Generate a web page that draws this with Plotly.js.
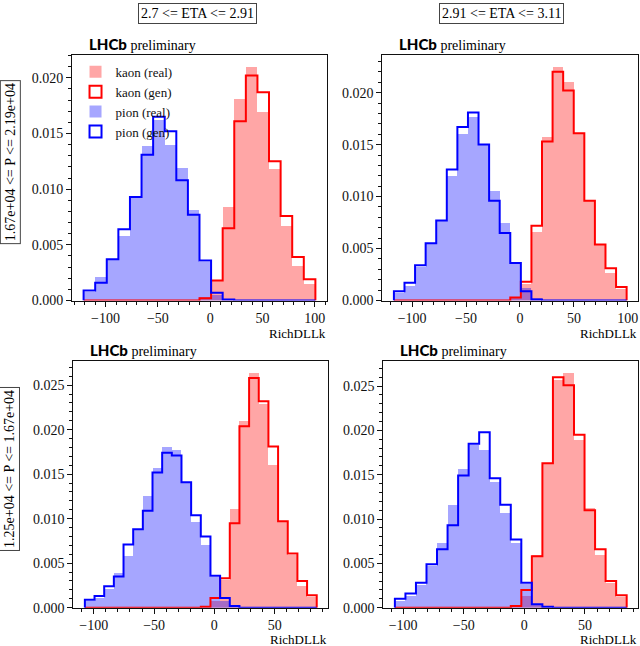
<!DOCTYPE html>
<html>
<head>
<meta charset="utf-8">
<script src="https://cdn.plot.ly/plotly-3.0.1.min.js"></script>
<style>
  body { margin: 0; background: #fff; }
  #plot { width: 640px; height: 646px; }
</style>
</head>
<body>
<div id="plot"></div>
<script>
// RichDLLk distributions, kaon vs pion, real data vs generated
const etaLabels = ['2.7 &lt;= ETA &lt;= 2.91', '2.91 &lt;= ETA &lt;= 3.11'];
const pLabels = ['1.67e+04 &lt;= P &lt;= 2.19e+04', '1.25e+04 &lt;= P &lt;= 1.67e+04'];

// top left (20 bins)
const rangeTL = [-121.0, 100.6];
const kaonRealTL = [0, 0, 0, 0, 0, 0, 0, 0, 0, 0, 0.0003, 0.0018, 0.0084, 0.0181, 0.0210, 0.0169, 0.0118, 0.0067, 0.0031, 0.0015];
const kaonGenTL  = [0, 0, 0, 0, 0, 0, 0, 0, 0, 0, 0.0002, 0.0018, 0.0065, 0.0161, 0.0202, 0.0187, 0.0125, 0.0076, 0.0039, 0.0019];
const pionRealTL = [0.0008, 0.0021, 0.0037, 0.0058, 0.0093, 0.0139, 0.0162, 0.0140, 0.0119, 0.0081, 0.0035, 0.0005, 0.0001, 0, 0, 0, 0, 0, 0, 0];
const pionGenTL  = [0.0009, 0.0016, 0.0037, 0.0064, 0.0093, 0.0131, 0.0165, 0.0152, 0.0108, 0.0077, 0.0036, 0.0007, 0.0001, 0, 0, 0, 0, 0, 0, 0];

// top right (22 bins)
const rangeTR = [-116.9, 98.9];
const kaonRealTR = [0, 0, 0, 0, 0, 0, 0, 0, 0, 0, 0, 0.0003, 0.0016, 0.0066, 0.0157, 0.0225, 0.0210, 0.0161, 0.0096, 0.0053, 0.0026, 0.0011];
const kaonGenTR  = [0, 0, 0, 0, 0, 0, 0, 0, 0, 0, 0, 0.0003, 0.0018, 0.0072, 0.0153, 0.0220, 0.0202, 0.0161, 0.0096, 0.0054, 0.0031, 0.0013];
const pionRealTR = [0.0007, 0.0014, 0.0032, 0.0055, 0.0077, 0.0120, 0.0160, 0.0177, 0.0151, 0.0105, 0.0075, 0.0036, 0.0012, 0.0002, 0, 0, 0, 0, 0, 0, 0, 0];
const pionGenTR  = [0.0009, 0.0017, 0.0034, 0.0055, 0.0077, 0.0126, 0.0167, 0.0181, 0.0150, 0.0096, 0.0065, 0.0036, 0.0009, 0.0001, 0, 0, 0, 0, 0, 0, 0, 0];

// bottom left (24 bins)
const rangeBL = [-107.4, 84.9];
const kaonRealBL = [0, 0, 0, 0, 0, 0, 0, 0, 0, 0, 0, 0, 0.0001, 0.0008, 0.0031, 0.0111, 0.0210, 0.0264, 0.0229, 0.0160, 0.0096, 0.0059, 0.0024, 0.0012];
const kaonGenBL  = [0, 0, 0, 0, 0, 0, 0, 0, 0, 0, 0, 0, 0.0001, 0.0011, 0.0033, 0.0095, 0.0204, 0.0258, 0.0232, 0.0181, 0.0097, 0.0061, 0.0030, 0.0014];
const pionRealBL = [0.0007, 0.0011, 0.0021, 0.0039, 0.0058, 0.0088, 0.0126, 0.0157, 0.0181, 0.0177, 0.0141, 0.0096, 0.0070, 0.0035, 0.0008, 0.0001, 0, 0, 0, 0, 0, 0, 0, 0];
const pionGenBL  = [0.0009, 0.0013, 0.0024, 0.0035, 0.0071, 0.0088, 0.0109, 0.0152, 0.0174, 0.0171, 0.0141, 0.0104, 0.0080, 0.0036, 0.0011, 0.0002, 0, 0, 0, 0, 0, 0, 0, 0];

// bottom right (22 bins)
const rangeBR = [-106.8, 84.4];
const kaonRealBR = [0, 0, 0, 0, 0, 0, 0, 0, 0, 0, 0, 0.0002, 0.0013, 0.0059, 0.0163, 0.0257, 0.0265, 0.0189, 0.0112, 0.0059, 0.0028, 0.0012];
const kaonGenBR  = [0, 0, 0, 0, 0, 0, 0, 0, 0, 0, 0, 0.0002, 0.0020, 0.0058, 0.0163, 0.0260, 0.0251, 0.0195, 0.0110, 0.0066, 0.0030, 0.0014];
const pionRealBR = [0.0007, 0.0013, 0.0026, 0.0047, 0.0073, 0.0116, 0.0156, 0.0183, 0.0178, 0.0142, 0.0107, 0.0073, 0.0027, 0.0004, 0.0001, 0, 0, 0, 0, 0, 0, 0];
const pionGenBR  = [0.0010, 0.0016, 0.0028, 0.0049, 0.0066, 0.0093, 0.0149, 0.0185, 0.0198, 0.0146, 0.0116, 0.0077, 0.0028, 0.0004, 0.0001, 0, 0, 0, 0, 0, 0, 0];

const panels = [
  { range: rangeTL, kReal: kaonRealTL, kGen: kaonGenTL, pReal: pionRealTL, pGen: pionGenTL, ax: '',  xd: [0.1125, 0.5109], yd: [0.5348, 0.9149], lab: -24 },
  { range: rangeTR, kReal: kaonRealTR, kGen: kaonGenTR, pReal: pionRealTR, pGen: pionGenTR, ax: '2', xd: [0.5973, 0.9973], yd: [0.5348, 0.9149], lab: -24 },
  { range: rangeBL, kReal: kaonRealBL, kGen: kaonGenBL, pReal: pionRealBL, pGen: pionGenBL, ax: '3', xd: [0.1145, 0.5130], yd: [0.0593, 0.4412], lab: -23 },
  { range: rangeBR, kReal: kaonRealBR, kGen: kaonGenBR, pReal: pionRealBR, pGen: pionGenBR, ax: '4', xd: [0.5989, 0.9973], yd: [0.0593, 0.4412], lab: -23 }
];

const KAON_FILL = 'rgba(255,0,0,0.35)';
const PION_FILL = 'rgba(0,0,255,0.35)';
const SERIF = 'Liberation Serif, Times New Roman, serif';
const INK = '#111';

function binEdges(range, n) {
  const w = (range[1] - range[0]) / n;
  const edges = [];
  for (let i = 0; i <= n; i++) edges.push(range[0] + i * w);
  return edges;
}

function filledHist(edges, h, color, name, xa, ya, legend) {
  const centers = h.map((_, i) => (edges[i] + edges[i + 1]) / 2);
  return {
    type: 'bar', x: centers, y: h, width: edges[1] - edges[0],
    marker: { color: color, line: { width: 0 } },
    name: name, showlegend: legend, xaxis: xa, yaxis: ya, hoverinfo: 'skip'
  };
}

// matplotlib-like histtype='step' outline
function stepHist(edges, h, color, xa, ya) {
  const x = [edges[0]].concat(edges);
  const y = [0].concat(h, [0]);
  return {
    type: 'scatter', mode: 'lines', x: x, y: y,
    line: { color: color, width: 2, shape: 'hv' },
    showlegend: false, xaxis: xa, yaxis: ya, hoverinfo: 'skip'
  };
}

// legend-only entry drawn as an outlined box
function legendBox(color, name, xa, ya) {
  return {
    type: 'bar', x: [null], y: [null], name: name,
    marker: { color: 'rgba(0,0,0,0)', line: { color: color, width: 2 } },
    showlegend: true, xaxis: xa, yaxis: ya, hoverinfo: 'skip'
  };
}

const traces = [];
const layout = {
  width: 640, height: 646,
  margin: { l: 0, r: 0, t: 0, b: 0 },
  paper_bgcolor: '#fff', plot_bgcolor: '#fff',
  barmode: 'overlay', bargap: 0,
  font: { family: SERIF, size: 13, color: INK },
  showlegend: true,
  legend: {
    x: 0.118, y: 0.912, xanchor: 'left', yanchor: 'top',
    bgcolor: 'rgba(0,0,0,0)', font: { family: SERIF, size: 13, color: INK },
    tracegroupgap: 0, itemwidth: 30
  },
  annotations: []
};

panels.forEach((p, i) => {
  const xa = 'x' + p.ax, ya = 'y' + p.ax;
  const n = p.kReal.length;
  const edges = binEdges(p.range, n);
  const first = i === 0;

  traces.push(filledHist(edges, p.kReal, KAON_FILL, 'kaon (real)', xa, ya, first));
  traces.push(stepHist(edges, p.kGen, '#ff0000', xa, ya));
  if (first) traces.push(legendBox('#ff0000', 'kaon (gen)', xa, ya));
  traces.push(filledHist(edges, p.pReal, PION_FILL, 'pion (real)', xa, ya, first));
  traces.push(stepHist(edges, p.pGen, '#0000ff', xa, ya));
  if (first) traces.push(legendBox('#0000ff', 'pion (gen)', xa, ya));

  const span = p.range[1] - p.range[0];
  const ymax = Math.max(...p.kReal, ...p.kGen, ...p.pReal, ...p.pGen) * 1.05;

  layout['xaxis' + p.ax] = {
    domain: p.xd, anchor: ya, range: [p.range[0] - 0.05 * span, p.range[1] + 0.05 * span],
    showline: true, linecolor: INK, linewidth: 1, mirror: true,
    ticks: 'outside', ticklen: 5, tickwidth: 1, tickcolor: INK,
    tick0: 0, dtick: 50,
    minor: { ticks: 'outside', dtick: 10, tick0: 0, ticklen: 3, tickcolor: INK, showgrid: false },
    showgrid: false, zeroline: false,
    tickfont: { family: SERIF, size: 14, color: INK }
  };
  layout['yaxis' + p.ax] = {
    domain: p.yd, anchor: xa, range: [0, ymax],
    showline: true, linecolor: INK, linewidth: 1, mirror: true,
    ticks: 'outside', ticklen: 5, tickwidth: 1, tickcolor: INK,
    tick0: 0, dtick: 0.005, tickformat: '.3f',
    minor: { ticks: 'outside', dtick: 0.001, tick0: 0, ticklen: 3, tickcolor: INK, showgrid: false },
    showgrid: false, zeroline: false,
    tickfont: { family: SERIF, size: 14, color: INK }
  };

  layout.annotations.push({
    xref: xa + ' domain', yref: ya + ' domain', x: 0.057, y: 1,
    xanchor: 'left', yanchor: 'bottom', showarrow: false,
    text: '<span style="font-family:Lato;font-weight:900;font-size:15px">LHCb</span> preliminary',
    font: { family: SERIF, size: 14, color: '#000' }
  });
  layout.annotations.push({
    xref: xa + ' domain', yref: ya + ' domain', x: 1, y: 0,
    xanchor: 'right', yanchor: 'top', yshift: p.lab, showarrow: false, borderpad: 0,
    text: 'RichDLLk', font: { family: SERIF, size: 13, color: '#000' }
  });
});

// column headers (ETA bins)
[0.309, 0.784].forEach((x, i) => {
  layout.annotations.push({
    xref: 'paper', yref: 'paper', x: x, y: 0.979, xanchor: 'center', yanchor: 'middle',
    showarrow: false, text: etaLabels[i],
    bordercolor: '#444', borderwidth: 1, borderpad: 2,
    font: { family: SERIF, size: 14, color: '#000' }
  });
});

// row headers (P bins)
[0.749, 0.274].forEach((y, i) => {
  layout.annotations.push({
    xref: 'paper', yref: 'paper', x: 0.0156, y: y, xanchor: 'center', yanchor: 'middle',
    showarrow: false, textangle: -90, text: pLabels[i],
    bordercolor: '#444', borderwidth: 1, borderpad: 2,
    font: { family: SERIF, size: 14, color: '#000' }
  });
});

Plotly.newPlot('plot', traces, layout, { staticPlot: true });
</script>
</body>
</html>
